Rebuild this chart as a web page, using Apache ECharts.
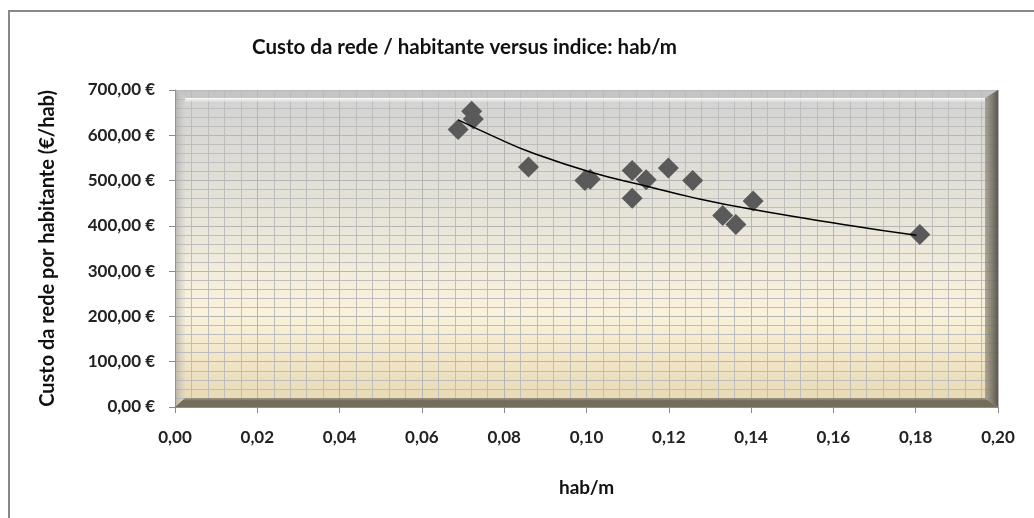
<!DOCTYPE html>
<html>
<head>
<meta charset="utf-8">
<script src="https://cdn.jsdelivr.net/npm/echarts@6/dist/echarts.min.js"></script>
<style>html,body{margin:0;padding:0;background:#fff}#c{width:1034px;height:518px}</style>
</head>
<body>
<div id="c"></div>
<script>
var habPorMetro = [0.0688, 0.0721, 0.0725, 0.0859, 0.0996, 0.1009, 0.1111, 0.1145, 0.1111, 0.1199, 0.1258, 0.1331, 0.1363, 0.1405, 0.1810];
var custoPorHab = [613, 653, 636, 530, 500, 503, 522, 502, 461, 528, 500, 423, 403, 455, 381];
var trendX = [0.0688, 0.079, 0.0863, 0.1009, 0.1154, 0.1252, 0.1405, 0.164, 0.1802];
var trendY = [634, 591, 563, 519, 486, 464, 436, 401, 379];
var xTicks = [0, 0.02, 0.04, 0.06, 0.08, 0.10, 0.12, 0.14, 0.16, 0.18, 0.20];
var yTicks = [0, 100, 200, 300, 400, 500, 600, 700];

var FONT = 'Lato, "Open Sans", sans-serif';
var chart = echarts.init(document.getElementById('c'), null, {renderer: 'canvas'});
var pts = habPorMetro.map(function (x, i) { return [x, custoPorHab[i]]; });
var trend = trendX.map(function (x, i) { return [x, trendY[i]]; });

var option = {
  animation: false,
  backgroundColor: '#ffffff',
  title: {
    text: 'Custo da rede / habitante versus indice: hab/m',
    left: 247, top: 32,
    textStyle: {fontFamily: FONT, fontWeight: 'bold', fontSize: 20.5, color: '#111'}
  },
  grid: {
    left: 175, top: 90, right: 36, bottom: 111,
    show: true, borderWidth: 0,
    backgroundColor: new echarts.graphic.LinearGradient(0, 0, 0, 1, [
      {offset: 0, color: '#d2d2d2'},
      {offset: 0.35, color: '#e4e2d8'},
      {offset: 0.7, color: '#faf2dc'},
      {offset: 1, color: '#e8d8b2'}
    ])
  },
  xAxis: {
    type: 'value', min: 0, max: 0.2, interval: 0.02,
    name: 'hab/m', nameLocation: 'middle', nameGap: 71,
    nameTextStyle: {fontFamily: FONT, fontWeight: 'bold', fontSize: 19, color: '#111'},
    axisLine: {show: true, onZero: false, lineStyle: {color: '#8c8c8c', width: 1}},
    axisTick: {show: true, length: 6, lineStyle: {color: '#8c8c8c'}},
    axisLabel: {
      margin: 22, fontFamily: FONT, fontWeight: 'bold', fontSize: 17, color: '#222',
      formatter: function (v) { return v.toFixed(2).replace('.', ','); }
    },
    splitLine: {show: true, lineStyle: {color: '#b5b5b5', width: 1}},
    minorTick: {show: false, splitNumber: 5},
    minorSplitLine: {show: true, lineStyle: {color: '#bdbdbd', width: 1}}
  },
  yAxis: {
    type: 'value', min: 0, max: 700, interval: 100,
    name: 'Custo da rede por habitante (€/hab)', nameLocation: 'middle', nameGap: 117,
    nameTextStyle: {fontFamily: FONT, fontWeight: 'bold', fontSize: 20, color: '#111'},
    axisLine: {show: true, lineStyle: {color: '#8c8c8c', width: 1}},
    axisTick: {show: true, length: 6, lineStyle: {color: '#8c8c8c'}},
    axisLabel: {
      margin: 20, fontFamily: FONT, fontWeight: 'bold', fontSize: 17, color: '#222',
      formatter: function (v) { return v.toFixed(2).replace('.', ',') + ' €'; }
    },
    splitLine: {show: true, lineStyle: {color: '#b5b5b5', width: 1}},
    minorTick: {show: false, splitNumber: 5},
    minorSplitLine: {show: true, lineStyle: {color: '#bdbdbd', width: 1}}
  },
  series: [
    {
      type: 'scatter', data: pts, symbol: 'diamond', symbolSize: 21, z: 3,
      itemStyle: {color: '#5a5a5a', opacity: 1}
    },
    {
      type: 'line', data: trend, smooth: true, showSymbol: false, z: 4,
      lineStyle: {color: '#000', width: 1.5}
    }
  ]
};
chart.setOption(option);

var tl = chart.convertToPixel({xAxisIndex: 0, yAxisIndex: 0}, [0, 700]);
var br = chart.convertToPixel({xAxisIndex: 0, yAxisIndex: 0}, [0.2, 0]);
var L = tl[0], T = tl[1], R = br[0], B = br[1];
chart.setOption({
  graphic: [
    {type: 'rect', z: 1, silent: true, shape: {x: 9, y: 11, width: 1200, height: 800},
      style: {fill: 'none', stroke: '#888', lineWidth: 2}},
    {type: 'polygon', z: 1, silent: true, shape: {points: [[L, T], [R, T], [R - 13, T + 8], [L + 10, T + 8]]},
      style: {fill: 'rgba(185,185,185,0.55)'}},
    {type: 'rect', z: 1, silent: true, shape: {x: L + 10, y: T + 8, width: R - L - 23, height: 4},
      style: {fill: new echarts.graphic.LinearGradient(0, 0, 0, 1, [
        {offset: 0, color: 'rgba(255,255,255,1)'}, {offset: 1, color: 'rgba(255,255,255,0.1)'}])}},
    {type: 'polygon', z: 1, silent: true, shape: {points: [[L, T], [L + 10, T + 8], [L + 10, B - 9], [L, B]]},
      style: {fill: new echarts.graphic.LinearGradient(0, 0, 1, 0, [
        {offset: 0, color: 'rgba(150,150,150,0.6)'}, {offset: 1, color: 'rgba(200,200,200,0.2)'}])}},
    {type: 'polygon', z: 1, silent: true, shape: {points: [[L, B], [L + 10, B - 9], [R - 13, B - 9], [R, B]]},
      style: {fill: new echarts.graphic.LinearGradient(0, 0, 0, 1, [
        {offset: 0, color: 'rgba(150,140,115,0.75)'}, {offset: 0.3, color: 'rgba(105,98,82,0.92)'}, {offset: 1, color: 'rgba(110,104,88,0.95)'}])}},
    {type: 'polygon', z: 1, silent: true, shape: {points: [[R, T], [R, B], [R - 13, B - 9], [R - 13, T + 8]]},
      style: {fill: new echarts.graphic.LinearGradient(0, 0, 1, 0, [
        {offset: 0, color: 'rgba(150,145,130,0.75)'}, {offset: 1, color: 'rgba(85,80,70,0.95)'}])}}
  ]
});
</script>
</body>
</html>
